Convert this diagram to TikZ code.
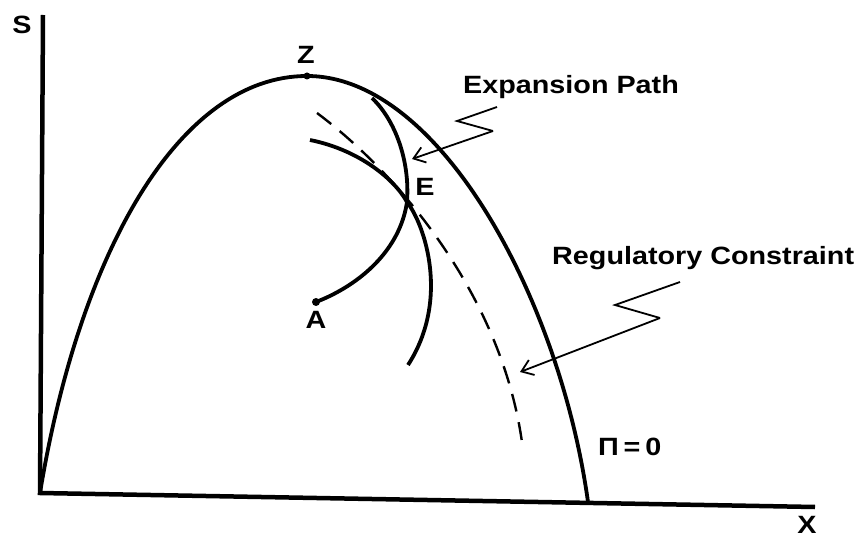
\documentclass[tikz,border=0pt]{standalone}
\usepackage{fontspec}
\usepackage{graphicx}
\setmainfont{Liberation Sans}
\usetikzlibrary{arrows.meta}
\newcommand{\widetxt}[1]{\scalebox{1.15}[1]{#1}}

\begin{document}
\begin{tikzpicture}[x=1pt, y=-1pt,
    axis/.style={line width=4.5pt},
    curve/.style={line width=3.8pt},
    isoline/.style={line width=2.4pt, dash pattern=on 18pt off 11pt},
    pointer/.style={line width=1.8pt, -{Straight Barb[length=11pt, width=16pt]}},
    zig/.style={line width=1.8pt},
    lbl/.style={font=\fontsize{25}{30}\selectfont\bfseries, inner sep=0pt}]
    \useasboundingbox (0,0) rectangle (862,540);
    % axes
    \coordinate (O) at (40,493);
    \coordinate (Stop) at (43,15);
    \coordinate (Xend) at (815,507);
    \draw[axis] (Stop) -- (O) -- (Xend);
    \node[lbl] (S) at (22,25) {\widetxt{S}};
    \node[lbl] (X) at (807,525) {\widetxt{X}};
    % profit frontier
    \coordinate (Z) at (307,76);
    \coordinate (P0) at (588,502);
    \draw[curve] (O) .. controls (80,250) and (180,76) .. (Z)
                     .. controls (440,76) and (560,300) .. (P0);
    \fill (Z) circle (3.5pt);
    \node[lbl] (Zl) at (306,55) {\widetxt{Z}};
    \node[lbl, anchor=base west] (Pi) at (598,455) {\widetxt{Π\,=\,0}};
    % expansion path
    \coordinate (A) at (316,302);
    \coordinate (E) at (407,202);
    \coordinate (T) at (372,98);
    \draw[curve] (A) .. controls (360,285) and (400,250) .. (E)
                     .. controls (410,160) and (395,120) .. (T);
    \fill (A) circle (4pt);
    \node[lbl] (Al) at (316,320) {\widetxt{A}};
    \node[lbl] (El) at (425,187) {\widetxt{E}};
    % iso curve through E
    \coordinate (I1) at (310,140);
    \coordinate (I2) at (408,365);
    \draw[curve] (I1) .. controls (360,150) and (395,180) .. (E)
                      .. controls (425,225) and (450,300) .. (I2);
    % regulatory constraint
    \coordinate (R1) at (317,113);
    \coordinate (R2) at (523,450);
    \draw[isoline] (R1) .. controls (400,175) and (505,300) .. (R2);
    % labels with pointers
    \node[lbl, anchor=base west] (EP) at (463,94) {\widetxt{Expansion Path}};
    \coordinate (ep1) at (497,107);
    \coordinate (ep2) at (457,121);
    \coordinate (ep3) at (493,131);
    \coordinate (ep4) at (412,159);
    \draw[zig] (ep1) -- (ep2) -- (ep3);
    \draw[pointer] (ep3) -- (ep4);
    \node[lbl, anchor=base west] (RC) at (552,265) {\widetxt{Regulatory Constraint}};
    \coordinate (rc1) at (680,282);
    \coordinate (rc2) at (615,305);
    \coordinate (rc3) at (660,318);
    \coordinate (rc4) at (520,372);
    \draw[zig] (rc1) -- (rc2) -- (rc3);
    \draw[pointer] (rc3) -- (rc4);
\end{tikzpicture}
\end{document}
